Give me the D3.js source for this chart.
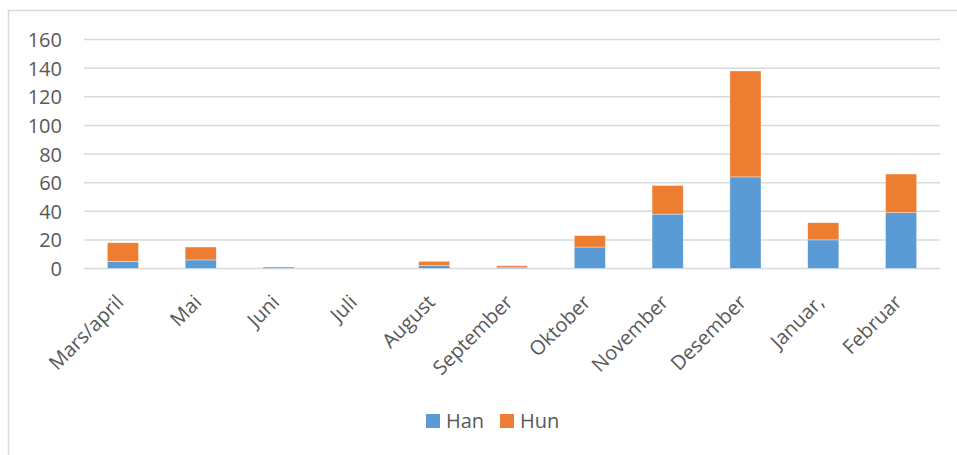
<!DOCTYPE html>
<html>
<head>
<meta charset="utf-8">
<script src="https://cdn.jsdelivr.net/npm/d3@7/dist/d3.min.js"></script>
<style>
  html, body { margin: 0; padding: 0; background: #fff; }
  svg { display: block; }
  svg text { font-family: "Open Sans", sans-serif; }
</style>
</head>
<body>
<svg id="chart" width="957" height="455"></svg>
<script>
const categories = ["Mars/april", "Mai", "Juni", "Juli", "August", "September", "Oktober", "November", "Desember", "Januar,", "Februar"];
const han = [5, 6, 1, 0, 2, 1, 15, 38, 64, 20, 39];
const hun = [13, 9, 0, 0, 3, 1, 8, 20, 74, 12, 27];
const seriesNames = ["Han", "Hun"];
const seriesColors = ["#5b9bd5", "#ed7d31"];
const yTicks = [0, 20, 40, 60, 80, 100, 120, 140, 160];

(function () {
const svg = d3.select("#chart");
const W = 957, H = 455;
const FONT = "'Open Sans', sans-serif";

// outer frame
svg.append("rect").attr("x", 8.5).attr("y", 10.5).attr("width", W + 10).attr("height", H + 10)
  .attr("fill", "#fff").attr("stroke", "#d9d9d9").attr("stroke-width", 1.5);

const plotLeft = 84, plotRight = 940, plotTop = 39.5, plotBottom = 268.5;

const x = d3.scaleBand().domain(categories).range([plotLeft, plotRight]).paddingInner(0.6).paddingOuter(0.3);
const y = d3.scaleLinear().domain([0, 160]).range([plotBottom, plotTop]);

// gridlines
svg.append("g").selectAll("line").data(yTicks).join("line")
  .attr("x1", plotLeft).attr("x2", plotRight)
  .attr("y1", d => y(d)).attr("y2", d => y(d))
  .attr("stroke", "#d9d9d9").attr("stroke-width", 1.5);

// y axis
const yAxis = d3.axisLeft(y).tickValues(yTicks).tickSize(0).tickPadding(0);
const yg = svg.append("g").attr("transform", `translate(62,0)`).call(yAxis)
  .attr("font-family", FONT).attr("font-size", 20);
yg.select(".domain").remove();
yg.selectAll("text").attr("fill", "#595959").attr("dy", "0.35em");

// stacked data
const rows = categories.map((c, i) => ({ cat: c, Han: han[i], Hun: hun[i] }));
const stack = d3.stack().keys(seriesNames)(rows);

svg.append("g").selectAll("g").data(stack).join("g")
  .attr("fill", (d, i) => seriesColors[i])
  .selectAll("rect").data(d => d).join("rect")
  .attr("x", d => x(d.data.cat))
  .attr("width", x.bandwidth())
  .attr("y", d => y(d[1]))
  .attr("height", d => Math.max(0, y(d[0]) - y(d[1])))
  .attr("stroke", "#fff").attr("stroke-width", d => (d[1] - d[0]) > 0 ? 0.6 : 0)
  .attr("stroke-opacity", 0.6);

// x axis labels
const xAxis = d3.axisBottom(x).tickSize(0).tickPadding(0);
const xg = svg.append("g").attr("transform", `translate(0,${plotBottom})`).call(xAxis)
  .attr("font-family", FONT).attr("font-size", 20);
xg.select(".domain").remove();
xg.selectAll(".tick text")
  .attr("fill", "#595959")
  .attr("text-anchor", "end")
  .attr("dy", "0")
  .attr("y", 0)
  .attr("transform", "translate(2,35) rotate(-45)");

// legend
const legend = svg.append("g").attr("font-family", FONT).attr("font-size", 20);
const legendX = [426, 500];
seriesNames.forEach((name, i) => {
  const g = legend.append("g").attr("transform", `translate(${legendX[i]},414)`);
  g.append("rect").attr("width", 14).attr("height", 14).attr("fill", seriesColors[i]);
  g.append("text").attr("x", 20).attr("y", 14).attr("fill", "#595959").text(name);
});
})();
</script>
</body>
</html>
